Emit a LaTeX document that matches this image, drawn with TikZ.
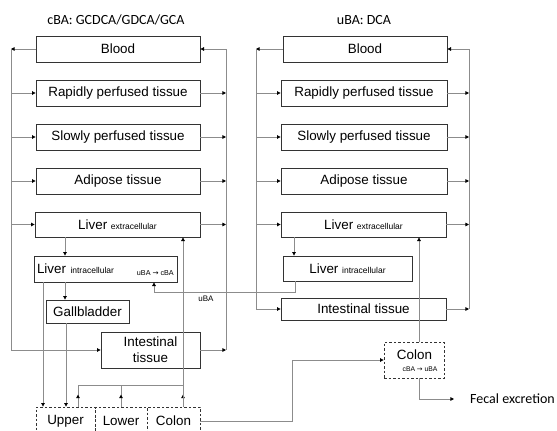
\documentclass[tikz,border=0pt]{standalone}
\usepackage{fontspec}
\setmainfont{Liberation Sans}
\newfontfamily\calfont{Carlito}
\newfontfamily\symfont{DejaVu Sans}
\usetikzlibrary{arrows.meta,calc}
\begin{document}
\begin{tikzpicture}[x=1pt,y=-1pt,
  box/.style={draw=black!80,line width=0.8pt,inner sep=0pt,align=center,
    font=\fontsize{13.4}{16}\selectfont},
  dbox/.style={box,dashed,dash pattern=on 2.5pt off 2pt},
  conn/.style={draw=black!45,line width=0.8pt},
  arr/.style={conn,-{Triangle[length=3.6pt,width=3.6pt,color=black]}},
  small/.style={font=\fontsize{8.5}{10}\selectfont},
  tiny/.style={font=\fontsize{7.2}{9}\selectfont},
  title/.style={font=\calfont\fontsize{14}{16}\selectfont}]
\useasboundingbox (0,0) rectangle (557,431);
\clip (0,0) rectangle (557,431);
\newcommand{\sm}[1]{{\fontsize{8.5}{10}\selectfont #1}}
% titles
\node[title] (t1) at (116,20) {cBA: GCDCA/GDCA/GCA};
\node[title] (t2) at (364,20) {uBA: DCA};
% ---------- left column ----------
\node[box,minimum width=164,minimum height=26] (lblood) at (118,49) {Blood};
\node[box,minimum width=164,minimum height=26] (lrapid) at (118,93) {Rapidly perfused tissue};
\node[box,minimum width=164,minimum height=26] (lslow) at (118,137) {Slowly perfused tissue};
\node[box,minimum width=164,minimum height=26] (ladip) at (118,181) {Adipose tissue};
\node[box,minimum width=165,minimum height=25] (lliverx) at (117.5,224.5) {Liver \sm{extracellular}};
\node[box,minimum width=143,minimum height=26,text width=137,align=left] (llivi) at (105.5,269) {Liver \sm{intracellular}};
\node[tiny,anchor=base east,inner sep=0pt] (lconv) at (174,275.5) {uBA {\symfont→} cBA};
\node[box,minimum width=83,minimum height=23] (lgall) at (87.5,311.5) {Gallbladder};
\node[box,minimum width=99,minimum height=36] (lint) at (150.5,350) {Intestinal\\tissue};
\node[dbox,minimum width=59,minimum height=28] (lupper) at (65.5,421) {Upper};
\node[dbox,minimum width=52,minimum height=28] (llower) at (121,421) {Lower};
\node[dbox,minimum width=53,minimum height=28] (lcolon) at (173.5,421) {Colon};
% ---------- right column ----------
\node[box,minimum width=164,minimum height=26] (rblood) at (365,49) {Blood};
\node[box,minimum width=166,minimum height=26] (rrapid) at (364,93) {Rapidly perfused tissue};
\node[box,minimum width=166,minimum height=26] (rslow) at (364,137) {Slowly perfused tissue};
\node[box,minimum width=166,minimum height=26] (radip) at (364,181) {Adipose tissue};
\node[box,minimum width=165,minimum height=25] (rliverx) at (363.5,224.5) {Liver \sm{extracellular}};
\node[box,minimum width=129,minimum height=25] (rlivi) at (347.5,268.5) {Liver \sm{intracellular}};
\node[box,minimum width=165,minimum height=22] (rint) at (363.5,309) {Intestinal tissue};
\node[dbox,minimum width=60,minimum height=36] (rcolon) at (414,360) {};
\node[inner sep=0pt,font=\fontsize{13.4}{16}\selectfont] (rcolt) at (414.5,355) {Colon};
\node[tiny,inner sep=0pt,font=\fontsize{6.8}{8}\selectfont] (rconv) at (420,369) {cBA {\symfont→} uBA};
\node[title,anchor=west,inner sep=0pt] (fecal) at (470,399) {Fecal excretion};
% coordinates for bus lines
\coordinate (LL) at (11,0);
\coordinate (LR) at (226,0);
\coordinate (RL) at (256,0);
\coordinate (RR) at (469,0);
\coordinate (xa) at (65,0);
\coordinate (xb) at (43,0);
\coordinate (xg) at (66,0);
\coordinate (xu) at (78,0);
\coordinate (xl) at (121,0);
\coordinate (xc) at (183,0);
\coordinate (xr) at (295,0);
\coordinate (xs) at (154,0);
\coordinate (xt) at (292,0);
\coordinate (xd) at (294,0);
\coordinate (xe) at (419,0);
\coordinate (busy) at (0,385);
\coordinate (uby) at (0,292);
\coordinate (fy) at (0,399);
% ---------- left connectors ----------
\draw[arr] (lblood.west) -- (lblood.west -| LL);
\draw[conn] (lblood.west -| LL) -- (lint.west -| LL);
\foreach \n in {lrapid,lslow,ladip,lliverx,lint}
  \draw[arr] (\n.west -| LL) -- (\n.west);
\draw[arr] (lblood.east -| LR) -- (lblood.east);
\draw[conn] (lblood.east -| LR) -- (lint.east -| LR);
\foreach \n in {lrapid,lslow,ladip,lliverx,lint}
  \draw[arr] (\n.east) -- (\n.east -| LR);
\draw[arr] (lliverx.south -| xa) -- (llivi.north -| xa);
\draw[arr] (llivi.south -| xa) -- (lgall.north -| xa);
\draw[arr] (llivi.south -| xb) -- (lupper.north -| xb);
\draw[arr] (lgall.south -| xg) -- (lupper.north -| xg);
% portal collection
\draw[conn] (busy -| xu) -- (busy -| xc);
\draw[conn] (lupper.north -| xu) -- (busy -| xu);
\draw[conn] (llower.north -| xl) -- (busy -| xl);
\draw[arr] (lupper.north -| xu) -- ++(0,-12);
\draw[arr] (llower.north -| xl) -- ++(0,-12);
\draw[arr] (lcolon.north -| xc) -- ++(0,-12);
\draw[arr] (lcolon.north -| xc) -- (lliverx.south -| xc);
% uBA return
\draw[arr] (rlivi.south -| xr) -- (uby -| xr) -- (uby -| xs) -- (llivi.south -| xs);
\node[tiny,font=\fontsize{8}{9}\selectfont] (ubal) at (206,299) {uBA};
% colon to colon
\draw[arr] (lcolon.east) -- (lcolon.east -| xt) -- (rcolon.west -| xt) -- (rcolon.west);
% ---------- right connectors ----------
\draw[arr] (rblood.west) -- (rblood.west -| RL);
\draw[conn] (rblood.west -| RL) -- (rint.west -| RL);
\foreach \n in {rrapid,rslow,radip,rliverx,rint}
  \draw[arr] (\n.west -| RL) -- (\n.west);
\draw[arr] (rblood.east -| RR) -- (rblood.east);
\draw[conn] (rblood.east -| RR) -- (rint.east -| RR);
\foreach \n in {rrapid,rslow,radip,rliverx,rint}
  \draw[arr] (\n.east) -- (\n.east -| RR);
\draw[arr] (rliverx.south -| xd) -- (rlivi.north -| xd);
\draw[arr] (rcolon.north -| xe) -- (rliverx.south -| xe);
\draw[arr] (rcolon.south -| xe) -- (fy -| xe) -- ($(fecal.west)+(-16,0)$);
\end{tikzpicture}
\end{document}
